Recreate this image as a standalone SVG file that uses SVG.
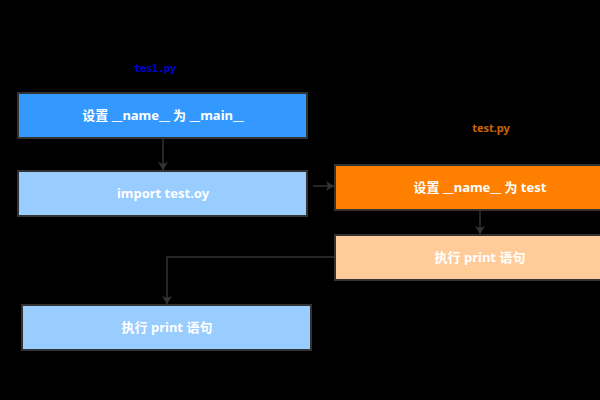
<svg xmlns="http://www.w3.org/2000/svg" width="600" height="400" viewBox="0 0 600 400">
<defs>
<marker id="ah" markerWidth="8" markerHeight="10" refX="8" refY="5" orient="auto" markerUnits="userSpaceOnUse">
<path d="M0,0 L8,5 L0,10 L2,5 Z" fill="#333"/>
</marker>
</defs>
<style>
.box{stroke:#333;stroke-width:2}
.t{font-family:"Noto Sans","Noto Sans CJK SC",sans-serif;font-size:13px;font-weight:bold;fill:#fff;text-anchor:middle;dominant-baseline:central}
.lbl{font-family:"Noto Sans","Noto Sans CJK SC",sans-serif;font-size:11px;text-anchor:middle}
.c{fill:none;stroke:#333;stroke-width:1.5}
</style>
<rect width="600" height="400" fill="#000"/>
<text class="lbl" x="155" y="72" fill="#0000DD" style="font-family:'DejaVu Sans Mono',monospace;font-size:10px;font-weight:bold">tes1.py</text>
<text class="lbl" x="491" y="132" fill="#CC6600" style="font-weight:bold">test.py</text>
<g id="connectors">
<path class="c" d="M163,138 V170" marker-end="url(#ah)"/>
<path class="c" d="M313,186 H334" marker-end="url(#ah)"/>
<path class="c" d="M480,210 V234" marker-end="url(#ah)"/>
<path class="c" d="M335,257 H167 V304" marker-end="url(#ah)"/>
</g>
<g id="n1"><rect class="box" x="18" y="93" width="289" height="45" fill="#3399FF"/><text class="t" x="163" y="115">设置 __name__ 为 __main__</text></g>
<g id="n2"><rect class="box" x="18" y="171" width="289" height="45" fill="#99CCFF"/><text class="t" x="163" y="193">import test.oy</text></g>
<g id="n3"><rect class="box" x="335" y="165" width="290" height="45" fill="#FF8000"/><text class="t" x="480" y="187">设置 __name__ 为 test</text></g>
<g id="n4"><rect class="box" x="335" y="235" width="290" height="45" fill="#FFCC99"/><text class="t" x="480" y="257">执行 print 语句</text></g>
<g id="n5"><rect class="box" x="22" y="305" width="289" height="45" fill="#99CCFF"/><text class="t" x="167" y="327">执行 print 语句</text></g>
</svg>
